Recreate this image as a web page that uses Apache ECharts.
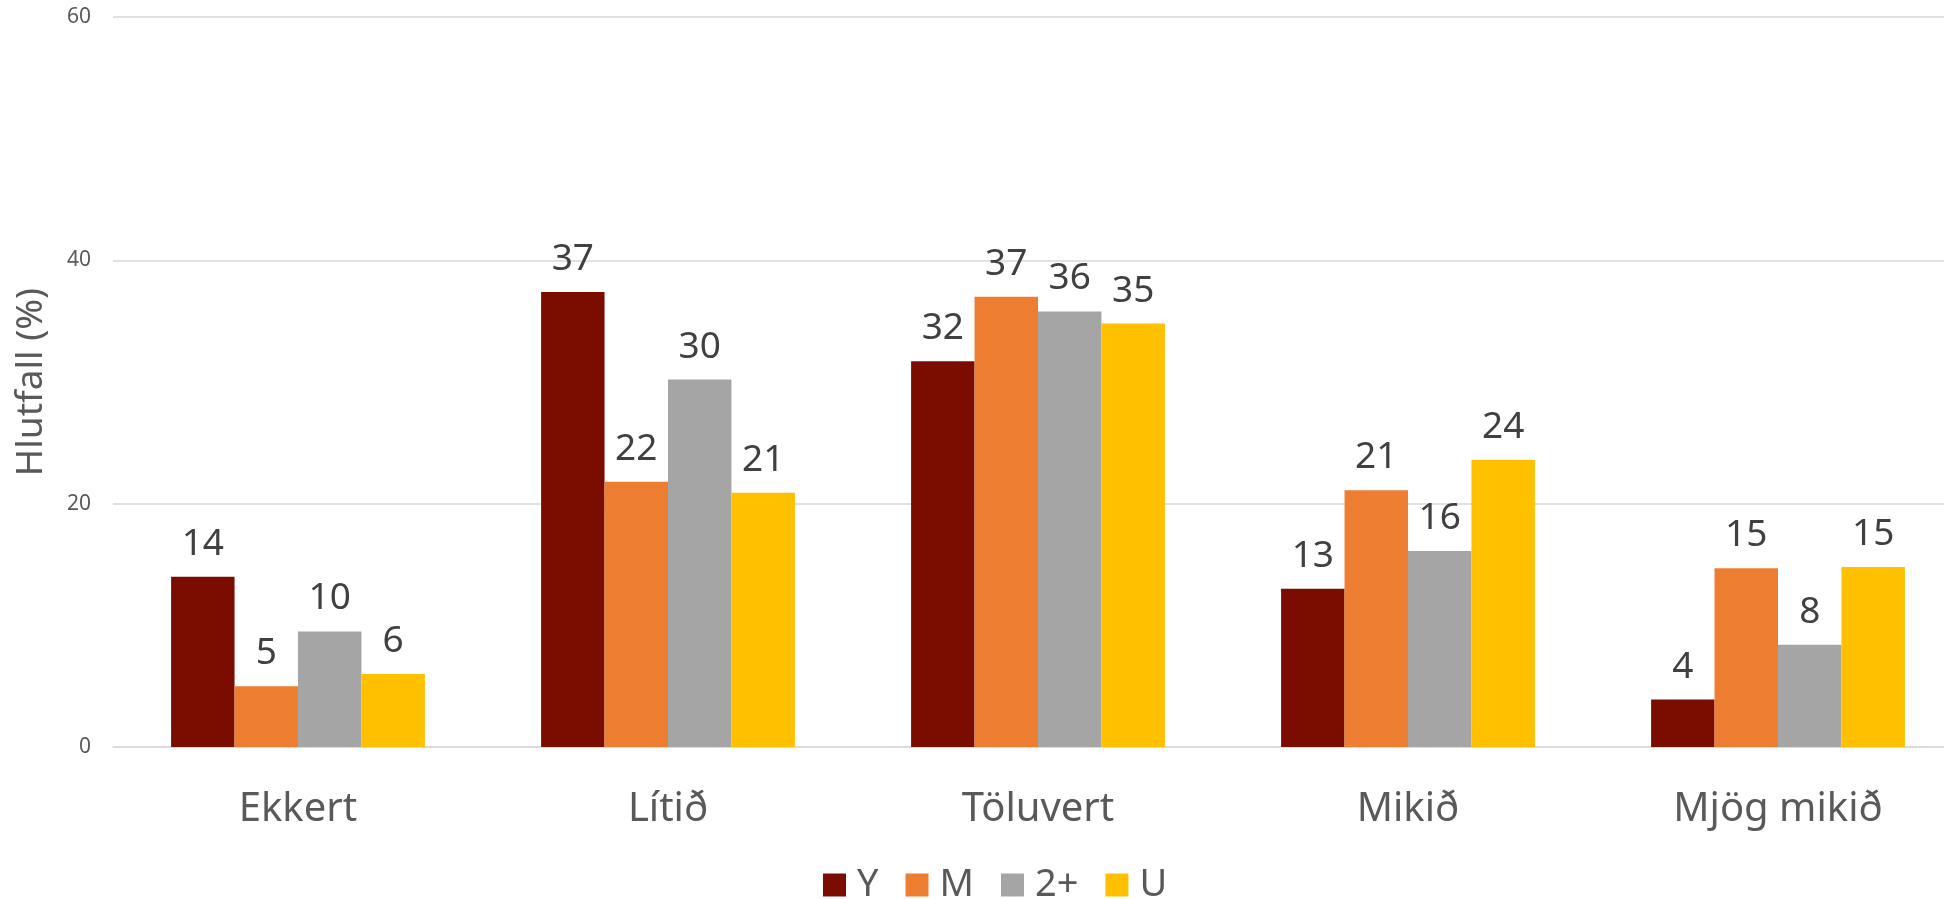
<!DOCTYPE html>
<html>
<head>
<meta charset="utf-8">
<style>
html,body{margin:0;padding:0;background:#fff;overflow:hidden;width:1944px;height:899px;}
#chart{width:1963px;height:899px;}
</style>
<script src="https://cdn.jsdelivr.net/npm/echarts@6/dist/echarts.min.js"></script>
</head>
<body>
<div id="chart"></div>
<script>
const categories = ["Ekkert", "Lítið", "Töluvert", "Mikið", "Mjög mikið"];
const seriesNames = ["Y", "M", "2+", "U"];
const valuesY = [14.0, 37.4, 31.7, 13.0, 3.9];
const valuesM = [5.0, 21.8, 37.0, 21.1, 14.7];
const values2 = [9.5, 30.2, 35.8, 16.1, 8.4];
const valuesU = [6.0, 20.9, 34.8, 23.6, 14.8];
const yTicks = { min: 0, max: 60, interval: 20 };
const yName = "Hlutfall (%)";
const colors = ["#7B0D00", "#ED7D31", "#A5A5A5", "#FFC000"];

const FONT = "Noto Sans";
const allValues = [valuesY, valuesM, values2, valuesU];

const chart = echarts.init(document.getElementById('chart'), null, { renderer: 'canvas' });
chart.setOption({
  animation: false,
  color: colors,
  textStyle: { fontFamily: FONT },
  grid: { left: 113, right: 0, top: 17, bottom: 152, containLabel: false },
  legend: {
    data: seriesNames,
    left: 818,
    top: 861,
    icon: 'rect',
    itemWidth: 23,
    itemHeight: 23,
    itemGap: 27,
    textStyle: { fontFamily: FONT, fontSize: 38, color: '#595959', padding: [0, 0, 0, 6] }
  },
  xAxis: {
    type: 'category',
    data: categories,
    axisLine: { show: true, lineStyle: { color: '#D9D9D9', width: 1.5 } },
    axisTick: { show: false },
    axisLabel: { fontFamily: FONT, fontSize: 40, color: '#595959', margin: 43 }
  },
  yAxis: {
    type: 'value',
    min: yTicks.min,
    max: yTicks.max,
    interval: yTicks.interval,
    name: yName,
    nameLocation: 'middle',
    nameGap: 63,
    nameTextStyle: { fontFamily: FONT, fontSize: 37, color: '#595959' },
    axisLine: { show: false },
    axisTick: { show: false },
    axisLabel: { fontFamily: FONT, fontSize: 21, color: '#595959', margin: 22 },
    splitLine: { lineStyle: { color: '#D9D9D9', width: 1.5 } }
  },
  series: seriesNames.map((name, i) => ({
    name: name,
    type: 'bar',
    data: allValues[i],
    barGap: '0%',
    barCategoryGap: '31.4%',
    label: {
      show: true,
      position: 'top',
      distance: 14,
      fontFamily: FONT,
      fontSize: 37,
      color: '#404040',
      formatter: p => Math.round(p.value)
    }
  }))
});
</script>
</body>
</html>
